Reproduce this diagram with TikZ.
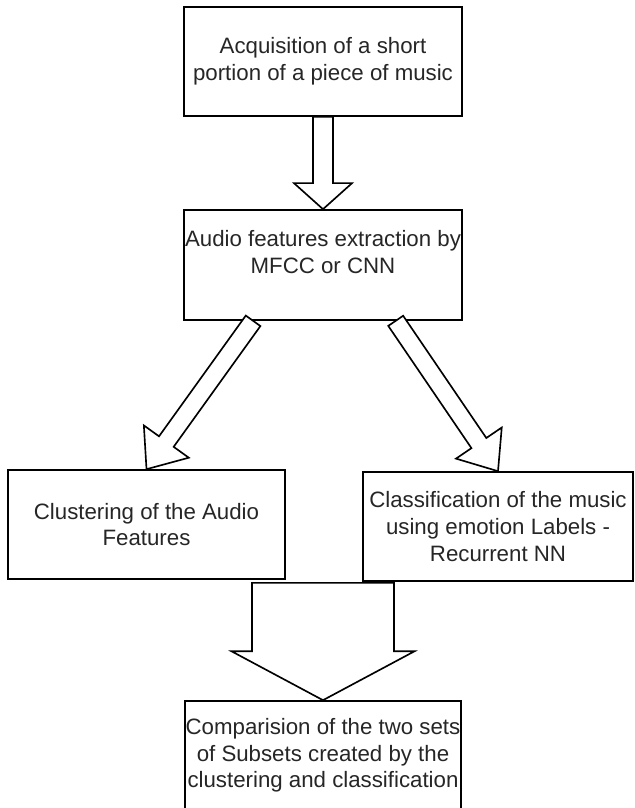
\documentclass[tikz,border=0pt]{standalone}
\usepackage{fontspec}
\setmainfont{Liberation Sans}
\usepackage{tikz}
\usetikzlibrary{positioning, calc}

% khoi mui ten: tu #1 den #2, nua than #3, nua dau #4, dai dau #5
\newcommand{\blockarr}[5]{%
    \coordinate (hb) at ($(#2)!#5!(#1)$);
    \draw[hollow] ($(#1)!#3!90:(#2)$) -- ($(hb)!#3!90:(#2)$) -- ($(hb)!#4!90:(#2)$)
        -- (#2) -- ($(hb)!#4!-90:(#2)$) -- ($(hb)!#3!-90:(#2)$) -- ($(#1)!#3!-90:(#2)$) -- cycle;
}

\begin{document}
\begin{tikzpicture}[x=0.03cm, y=-0.03cm,
        stage/.style={draw=black, line width=1.4pt, fill=white, text=black!85,
            align=center, inner xsep=0pt, minimum width=8.34cm, minimum height=3.27cm,
            font=\fontsize{19pt}{22.8pt}\selectfont},
        hollow/.style={draw=black, line width=1.4pt, fill=white, line join=miter}]
        % Khung trang
        \useasboundingbox (0,0) rectangle (634,808);
        \fill[white] (0,0) rectangle (634,808);

        % 1. Cac khoi
        \node[stage] (acq) at (323,61.5) {Acquisition of a short\\portion of a piece of music};
        \node[stage, minimum height=3.3cm] (feat) at (323,265) {Audio features extraction by\\MFCC or CNN\\\mbox{}};
        \node[stage, minimum width=8.31cm] (clust) at (146.5,524.5) {Clustering of the Audio\\Features};
        \node[stage, minimum width=8.1cm] (cls) at (498,526.5) {Classification of the music\\using emotion Labels -\\Recurrent NN};
        \node[stage, minimum width=8.28cm] (comp) at (323,755.5) {Comparision of the two sets\\of Subsets created by the\\clustering and classification};

        % 2. Diem dau cua cac mui ten
        \coordinate (featl) at ($(feat.south west)!0.25!(feat.south east)$);
        \coordinate (featr) at ($(feat.south west)!0.76!(feat.south east)$);
        \coordinate (join) at ($(comp.north |- clust.south)+(0,3)$);

        % 3. Mui ten
        \blockarr{acq.south}{feat.north}{0.3cm}{0.87cm}{0.78cm}
        \blockarr{featl}{clust.north}{0.27cm}{0.83cm}{1.02cm}
        \blockarr{featr}{cls.north}{0.27cm}{0.83cm}{1.02cm}
        \blockarr{join}{comp.north}{2.13cm}{2.75cm}{1.47cm}

    \end{tikzpicture}
\end{document}
